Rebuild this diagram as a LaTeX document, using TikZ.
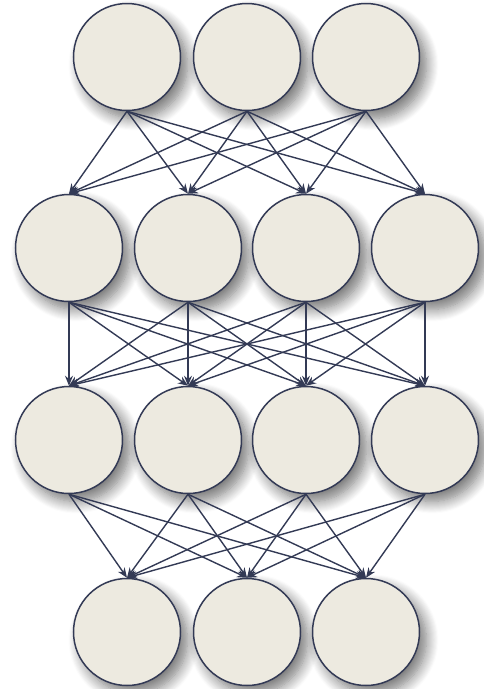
\documentclass[tikz,border=0pt]{standalone}
\usetikzlibrary{arrows.meta,shadows.blur}
\definecolor{nodefill}{HTML}{EDEAE0}
\definecolor{edgecol}{HTML}{333A55}
\tikzset{
  neuron/.style={circle, draw=edgecol, line width=1.5pt, fill=nodefill,
    minimum size=107pt, inner sep=0pt,
    blur shadow={shadow xshift=7pt, shadow yshift=-8pt, shadow blur radius=12pt, shadow blur steps=12, shadow opacity=55}},
  conn/.style={draw=edgecol, line width=1.4pt, -{Stealth[length=10pt,width=8pt]}}
}
\begin{document}
\begin{tikzpicture}[x=1pt,y=-1pt]
\useasboundingbox (0,0) rectangle (483,689);
\foreach \i/\x in {1/127,2/247,3/366} \node[neuron] (a\i) at (\x,57) {};
\foreach \i/\x in {1/69,2/188,3/306,4/425} \node[neuron] (b\i) at (\x,248) {};
\foreach \i/\x in {1/69,2/188,3/306,4/425} \node[neuron] (c\i) at (\x,440) {};
\foreach \i/\x in {1/127,2/247,3/366} \node[neuron] (d\i) at (\x,632) {};
\foreach \s in {1,2,3} \foreach \t in {1,2,3,4} \draw[conn] (a\s.south) -- (b\t.north);
\foreach \s in {1,2,3,4} \foreach \t in {1,2,3,4} \draw[conn] (b\s.south) -- (c\t.north);
\foreach \s in {1,2,3,4} \foreach \t in {1,2,3} \draw[conn] (c\s.south) -- (d\t.north);
\end{tikzpicture}
\end{document}
